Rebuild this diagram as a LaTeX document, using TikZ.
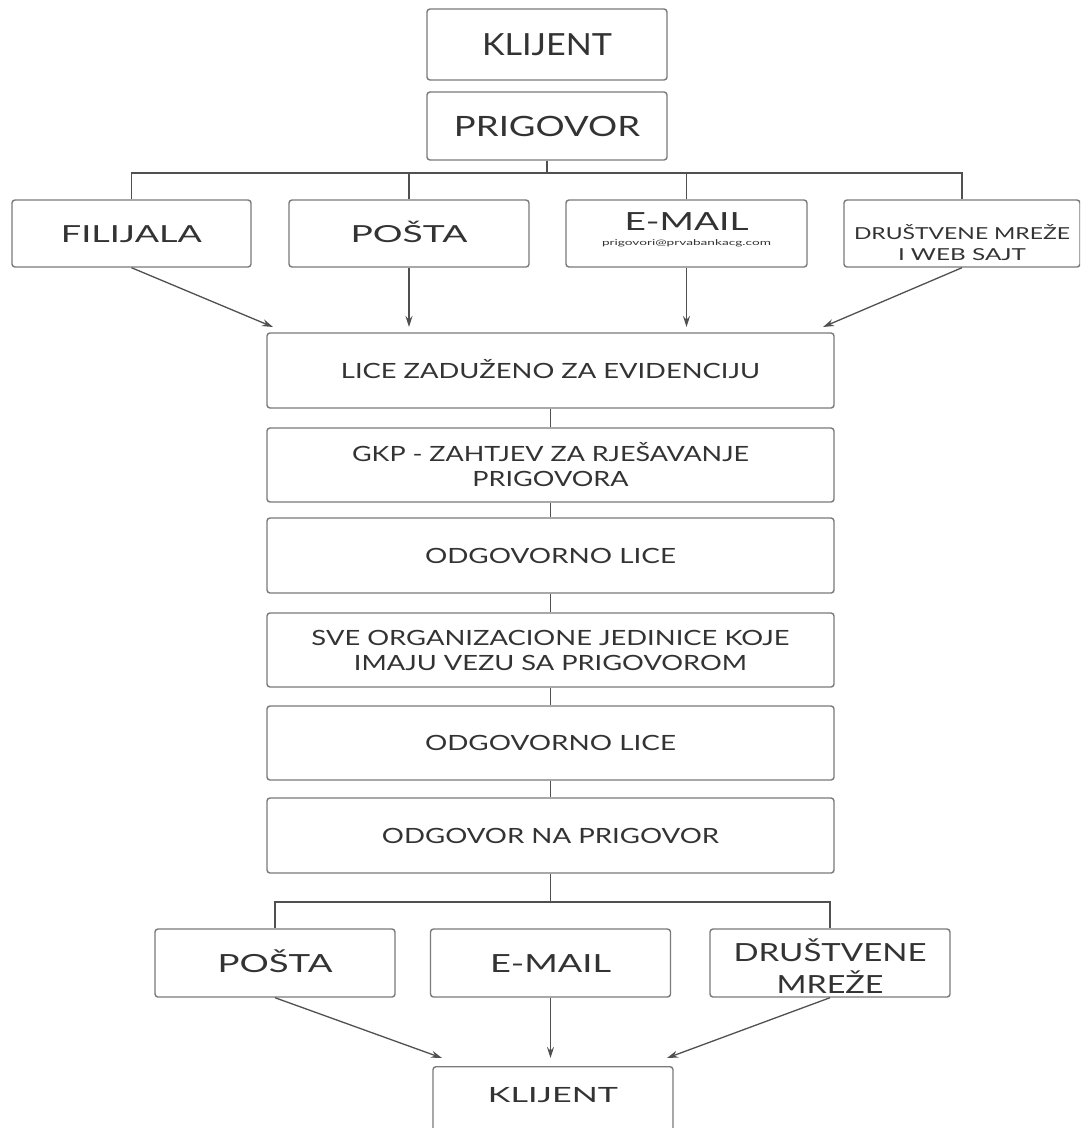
\documentclass[tikz,border=0pt]{standalone}
\usepackage{fontspec}
\setmainfont{Lato}
\usetikzlibrary{arrows.meta}
\definecolor{txt}{HTML}{333333}
\definecolor{edge}{HTML}{7A7A7A}
\definecolor{wire}{HTML}{505050}
\newcommand\tw[2]{\resizebox{#1pt}{\height}{#2}}
\newcommand\fs[2]{\fontsize{#1}{#2}\selectfont}
\tikzset{
  box/.style={draw=edge, line width=1.4pt, rounded corners=3pt, fill=white, inner sep=0pt, text=txt, align=center},
  capc/.style={text height=#1, text depth=0pt},
  wirestyle/.style={draw=wire, line width=1.3pt},
  arrowstyle/.style={draw=wire, line width=1.3pt, -{Stealth[length=11pt,width=7pt]}},
  lbl/.style={text=txt, align=center, inner sep=0pt}
}
\begin{document}
\begin{tikzpicture}[x=1pt,y=-1pt]
\clip (0,0) rectangle (1080,1128);
\fill[white] (0,0) rectangle (1080,1128);
% top
\node[box, capc=22pt, minimum width=240, minimum height=71, font=\fs{30.5}{34}] (k1) at (547,44.5) {\tw{130}{KLIJENT}};
\node[box, capc=20pt, minimum width=240, minimum height=68, font=\fs{28}{32}] (p) at (547,126) {\tw{186}{PRIGOVOR}};
% channels
\node[box, capc=17pt, minimum width=239, minimum height=67, font=\fs{23.5}{28}] (c1) at (131.5,233.5) {\tw{141}{FILIJALA}};
\node[box, capc=17pt, minimum width=240, minimum height=67, font=\fs{23.5}{28}] (c2) at (409,233.5) {\tw{117}{POŠTA}};
\node[box, minimum width=241, minimum height=67] (c3) at (686.5,233.5) {};
\node[lbl, capc=18pt, font=\fs{25}{28}] (c3a) at (686.5,221) {\tw{124}{E-MAIL}};
\node[lbl, font=\fs{8}{9}] (c3b) at (686.5,243) {\tw{169}{prigovori@prvabankacg.com}};
\node[box, minimum width=236, minimum height=67] (c4) at (962,233.5) {};
\node[lbl, font=\fs{16.5}{21}] (c4a) at (962,243) {\tw{216}{DRUŠTVENE MREŽE}\\\tw{128}{I WEB SAJT}};
% branch top
\coordinate (bt) at (547,173);
\draw[wirestyle] (p.south) -- (bt);
\draw[wirestyle] (c1.north) |- (bt) -| (c4.north);
\draw[wirestyle] (c2.north) -- (c2.north |- bt);
\draw[wirestyle] (c3.north) -- (c3.north |- bt);
% middle chain
\node[box, capc=15pt, minimum width=567, minimum height=75, font=\fs{21}{25}] (m1) at (550.5,370.5) {\tw{419}{LICE ZADUŽENO ZA EVIDENCIJU}};
\node[box, minimum width=567, minimum height=74, font=\fs{21}{25}] (m2) at (550.5,465) {\tw{397}{GKP - ZAHTJEV ZA RJEŠAVANJE}\\\tw{156}{PRIGOVORA}};
\node[box, capc=15pt, minimum width=567, minimum height=75, font=\fs{21}{25}] (m3) at (550.5,555.5) {\tw{251}{ODGOVORNO LICE}};
\node[box, minimum width=567, minimum height=74, font=\fs{21}{25}] (m4) at (550.5,650) {\tw{478}{SVE ORGANIZACIONE JEDINICE KOJE}\\\tw{393}{IMAJU VEZU SA PRIGOVOROM}};
\node[box, capc=15pt, minimum width=567, minimum height=74, font=\fs{21}{25}] (m5) at (550.5,743) {\tw{251}{ODGOVORNO LICE}};
\node[box, capc=15pt, minimum width=567, minimum height=75, font=\fs{21}{25}] (m6) at (550.5,835.5) {\tw{337}{ODGOVOR NA PRIGOVOR}};
\draw[wirestyle] (m1.south) -- (m2.north);
\draw[wirestyle] (m2.south) -- (m3.north);
\draw[wirestyle] (m3.south) -- (m4.north);
\draw[wirestyle] (m4.south) -- (m5.north);
\draw[wirestyle] (m5.south) -- (m6.north);
% arrows into m1
\coordinate (t1) at (273,327);
\coordinate (t4) at (823,327);
\draw[arrowstyle] (c1.south) -- (t1);
\draw[arrowstyle] (c2.south) -- (c2.south |- t1);
\draw[arrowstyle] (c3.south) -- (c3.south |- t1);
\draw[arrowstyle] (c4.south) -- (t4);
% bottom channels
\node[box, capc=18pt, minimum width=240, minimum height=68, font=\fs{25}{30}] (b1) at (275,963) {\tw{115}{POŠTA}};
\node[box, capc=18pt, minimum width=240, minimum height=68, font=\fs{25}{30}] (b2) at (550.5,963) {\tw{121}{E-MAIL}};
\node[box, minimum width=240, minimum height=68] (b3) at (830,963) {};
\node[lbl, font=\fs{25}{32}] (b3t) at (830,966) {\tw{193}{DRUŠTVENE}\\\tw{107}{MREŽE}};
\coordinate (bb) at (550.5,902);
\draw[wirestyle] (m6.south) -- (bb);
\draw[wirestyle] (b1.north) |- (bb) -| (b3.north);
% final client
\node[box, minimum width=240, minimum height=90, anchor=north] (k2) at (553,1066) {};
\node[lbl, capc=15pt, font=\fs{21}{25}] (k2t) at (553,1095) {\tw{130}{KLIJENT}};
\coordinate (u1) at (442,1058);
\coordinate (u3) at (667,1058);
\draw[arrowstyle] (b1.south) -- (u1);
\draw[arrowstyle] (b2.south) -- (b2.south |- u1);
\draw[arrowstyle] (b3.south) -- (u3);
\end{tikzpicture}
\end{document}
